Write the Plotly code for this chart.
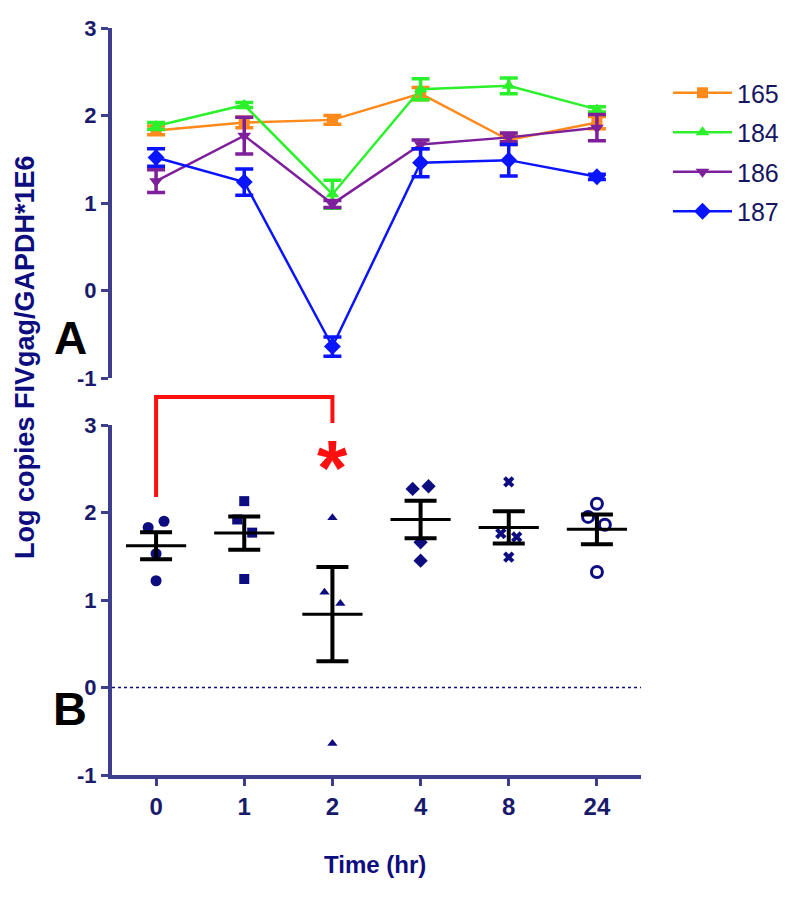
import numpy as np
import plotly.graph_objects as go

# ---------------- data ----------------
time_labels = ["0", "1", "2", "4", "8", "24"]
y_tick_vals = [-1, 0, 1, 2, 3]
y_tick_text = ["-1", "0", "1", "2", "3"]

series_names = ["165", "184", "186", "187"]
a_165 = [1.83, 1.92, 1.95, 2.25, 1.72, 1.92]
a_184 = [1.88, 2.12, 1.10, 2.30, 2.34, 2.07]
a_186 = [1.25, 1.77, 0.99, 1.67, 1.75, 1.86]
a_187 = [1.52, 1.24, -0.64, 1.46, 1.49, 1.30]
a_165_err = [0.05, 0.06, 0.05, 0.07, 0.05, 0.07]
a_184_err = [0.04, 0.03, 0.16, 0.12, 0.09, 0.03]
a_186_err = [0.13, 0.21, 0.04, 0.05, 0.05, 0.15]
a_187_err = [0.10, 0.15, 0.11, 0.16, 0.18, 0.03]

b_t0 = [1.83, 1.90, 1.53, 1.22]
b_t1 = [2.13, 1.92, 1.77, 1.24]
b_t2 = [1.94, 1.09, 0.96, -0.64]
b_t4 = [2.27, 2.30, 1.66, 1.45]
b_t8 = [2.35, 1.76, 1.72, 1.49]
b_t24 = [2.10, 1.95, 1.86, 1.32]

# ---------------- styles ----------------
a_values = [a_165, a_184, a_186, a_187]
a_errors = [a_165_err, a_184_err, a_186_err, a_187_err]
a_colors = ["#ff8a1c", "#2cf02c", "#7e1f9c", "#0a14ff"]
a_symbols = ["square", "triangle-up", "triangle-down", "diamond"]
a_msize = [11, 12, 12, 13]

b_values = [b_t0, b_t1, b_t2, b_t4, b_t8, b_t24]
b_symbols = ["circle", "square", "triangle-up", "diamond", "x", "circle-open"]
b_msize = [11, 10, 9, 11, 10, 11]
b_jitter = [[-0.09, 0.09, 0, 0], [0, -0.08, 0.09, 0], [0, -0.09, 0.09, 0],
            [-0.09, 0.09, 0, 0], [0, -0.09, 0.09, 0], [0, -0.10, 0.09, 0]]

FONT = "Liberation Sans, Arial, sans-serif"
NAVY = "#0d0d80"
AXIS = "#3d3f8e"
TICK = "#1a1a6b"

W, H = 800, 899
OFF = 8  # page body margin
pos = list(range(len(time_labels)))


def ypx(p):
    return (H - (p - OFF)) / H


def xpx(p):
    return (p - OFF) / W


fig = go.Figure()

# Panel A: lines with error bars
for i, name in enumerate(series_names):
    fig.add_trace(go.Scatter(
        x=pos, y=a_values[i], name=name, mode="lines+markers",
        legendgroup=name, xaxis="x", yaxis="y",
        line=dict(color=a_colors[i], width=2.5),
        marker=dict(symbol=a_symbols[i], size=a_msize[i], color=a_colors[i]),
        error_y=dict(type="data", array=a_errors[i], color=a_colors[i],
                     thickness=3.5, width=9),
        cliponaxis=False,
    ))

# Panel B: scatter points + mean +- SEM
for j, vals in enumerate(b_values):
    vals = np.array(vals)
    xs = [pos[j] + o for o in b_jitter[j]]
    sym = b_symbols[j]
    mk = dict(symbol=sym, size=b_msize[j], color=NAVY)
    if sym == "circle-open":
        mk["line"] = dict(width=3, color=NAVY)
    fig.add_trace(go.Scatter(
        x=xs, y=vals, mode="markers", showlegend=False,
        xaxis="x2", yaxis="y2", marker=mk, cliponaxis=False,
    ))
    mean = vals.mean()
    sem = vals.std(ddof=1) / np.sqrt(len(vals))
    fig.add_trace(go.Scatter(
        x=[pos[j]], y=[mean], mode="markers", showlegend=False,
        xaxis="x2", yaxis="y2", cliponaxis=False,
        marker=dict(symbol="line-ew", size=43, color="black",
                    line=dict(width=3, color="black")),
        error_y=dict(type="data", array=[sem], color="black",
                     thickness=4, width=16),
    ))

axis_common = dict(showline=True, linecolor=AXIS, linewidth=4,
                   ticks="outside", tickcolor=AXIS, tickwidth=3, ticklen=7,
                   showgrid=False, zeroline=False, automargin=False)
yfont = dict(family=FONT, size=22, color=TICK, weight="bold")
xfont = dict(family=FONT, size=24, color=TICK, weight="bold")

xdom = [xpx(112), xpx(641)]
fig.update_layout(
    width=W, height=H,
    margin=dict(l=0, r=0, t=0, b=0, autoexpand=False),
    paper_bgcolor="white", plot_bgcolor="white",
    xaxis=dict(domain=xdom, range=[-0.5, 5.5], visible=False, anchor="y",
               automargin=False),
    yaxis=dict(domain=[ypx(378), ypx(28)], range=[-1, 3],
               tickvals=y_tick_vals, ticktext=y_tick_text,
               anchor="x", tickfont=yfont, **axis_common),
    xaxis2=dict(domain=xdom, range=[-0.5, 5.5], anchor="y2",
                tickvals=pos, ticktext=time_labels, tickfont=xfont, **axis_common),
    yaxis2=dict(domain=[ypx(775), ypx(425)], range=[-1, 3],
                tickvals=y_tick_vals, ticktext=y_tick_text,
                anchor="x2", tickfont=yfont, **axis_common),
    showlegend=True,
    legend=dict(x=xpx(668), y=ypx(70), xanchor="left", yanchor="top",
                font=dict(family=FONT, size=25, color="#161660"),
                itemwidth=59, tracegroupgap=4, bgcolor="rgba(0,0,0,0)"),
)

# zero reference line in panel B
fig.add_shape(type="line", xref="x2", yref="y2", x0=-0.5, x1=5.5, y0=0, y1=0,
              line=dict(color=NAVY, width=1.5, dash="dot"))

# significance bracket between 0 and 2 hr
fig.add_shape(type="path", xref="x2", yref="paper",
              path=f"M 0,{ypx(497)} L 0,{ypx(397)} L 2,{ypx(397)} L 2,{ypx(423)}",
              line=dict(color="#ff1010", width=4))
fig.add_annotation(x=2, xref="x2", y=ypx(468), yref="paper", text="*",
                   showarrow=False, xanchor="center", yanchor="middle",
                   font=dict(family=FONT, size=78, color="#ff1010", weight="bold"))

# panel letters
fig.add_annotation(x=xpx(70), y=ypx(338), xref="paper", yref="paper", text="A",
                   showarrow=False, xanchor="center", yanchor="middle",
                   font=dict(family=FONT, size=46, color="black", weight="bold"))
fig.add_annotation(x=xpx(70), y=ypx(708), xref="paper", yref="paper", text="B",
                   showarrow=False, xanchor="center", yanchor="middle",
                   font=dict(family=FONT, size=47, color="black", weight="bold"))

# axis titles
fig.add_annotation(x=xpx(25), y=ypx(357), xref="paper", yref="paper",
                   text="Log copies FIVgag/GAPDH*1E6", textangle=-90, showarrow=False,
                   xanchor="center", yanchor="middle",
                   font=dict(family=FONT, size=27, color=NAVY, weight="bold"))
fig.add_annotation(x=xpx(375), y=ypx(864), xref="paper", yref="paper",
                   text="Time (hr)", showarrow=False, xanchor="center", yanchor="middle",
                   font=dict(family=FONT, size=24, color=NAVY, weight="bold"))

fig.write_html("out.html")
